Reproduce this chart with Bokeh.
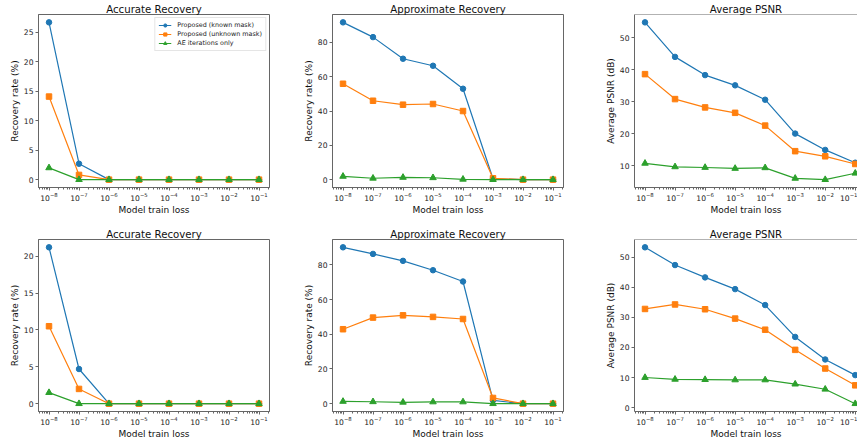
from bokeh.plotting import figure
from bokeh.layouts import gridplot
from bokeh.models import Range1d, FixedTicker, LogTickFormatter, Span
from bokeh.embed import file_html
from bokeh.resources import INLINE

# ---------------- data ----------------
loss = [1e-8, 1e-7, 1e-6, 1e-5, 1e-4, 1e-3, 1e-2, 1e-1]
series_names = ["Proposed (known mask)", "Proposed (unknown mask)", "AE iterations only"]

# top row
acc1_known = [26.7, 2.7, 0, 0, 0, 0, 0, 0]
acc1_unknown = [14.1, 0.8, 0, 0, 0, 0, 0, 0]
acc1_ae = [2.0, 0, 0, 0, 0, 0, 0, 0]
app1_known = [91.7, 83.1, 70.5, 66.4, 53.0, 0.5, 0, 0]
app1_unknown = [55.9, 46.0, 43.7, 44.1, 40.0, 0.8, 0, 0]
app1_ae = [1.9, 0.8, 1.3, 1.1, 0.2, 0, 0, 0]
psnr1_known = [54.8, 44.0, 38.3, 35.1, 30.6, 20.0, 14.9, 10.9]
psnr1_unknown = [38.6, 30.8, 28.2, 26.5, 22.5, 14.5, 12.9, 10.5]
psnr1_ae = [10.7, 9.6, 9.4, 9.1, 9.3, 6.0, 5.6, 7.6]

# bottom row
acc2_known = [21.2, 4.7, 0, 0, 0, 0, 0, 0]
acc2_unknown = [10.5, 2.0, 0, 0, 0, 0, 0, 0]
acc2_ae = [1.5, 0, 0, 0, 0, 0, 0, 0]
app2_known = [90.1, 86.3, 82.3, 76.9, 70.4, 1.9, 0, 0]
app2_unknown = [42.9, 49.6, 50.9, 50.0, 48.8, 3.3, 0, 0]
app2_ae = [1.3, 1.1, 0.8, 1.0, 1.0, 0, 0, 0]
psnr2_known = [53.3, 47.4, 43.3, 39.4, 34.1, 23.5, 16.0, 10.8]
psnr2_unknown = [32.8, 34.3, 32.7, 29.6, 25.9, 19.2, 13.0, 7.4]
psnr2_ae = [10.0, 9.4, 9.3, 9.2, 9.2, 7.8, 6.1, 1.3]

acc1_ticks = [0, 5, 10, 15, 20, 25]
acc2_ticks = [0, 5, 10, 15, 20]
app_ticks = [0, 20, 40, 60, 80]
psnr1_ticks = [10, 20, 30, 40, 50]
psnr2_ticks = [0, 10, 20, 30, 40, 50]

titles = ["Accurate Recovery", "Approximate Recovery", "Average PSNR"]
ylabels = ["Recovery rate (%)", "Recovery rate (%)", "Average PSNR (dB)"]
xlabel = "Model train loss"

# ---------------- style ----------------
COLORS = ["#1f77b4", "#ff7f0e", "#2ca02c"]
MARKERS = ["circle", "square", "triangle"]
MSIZES = [5.5, 5.5, 6.5]
FONT = "DejaVu Sans"
SPINE = "#666666"

minor = [k * 10.0 ** e for e in range(-9, 0) for k in range(2, 10)]


def make(rowi, col, title, ylabel, series, yticks, legend=False):
    widths = [300, 298, 259]
    lefts = [38, 32, 36]
    rights = [31, 35, 0]
    x_end_exp = [-0.65, -0.65, -0.925]
    heights = [220, 221]
    tops = [14, 19]
    bottoms = [33, 28]
    ys = [v for s in series for v in s]
    lo, hi = min(ys), max(ys)
    pad = 0.05 * (hi - lo)
    p = figure(width=widths[col], height=heights[rowi], x_axis_type="log",
               x_range=Range1d(10 ** -8.35, 10 ** x_end_exp[col]),
               y_range=Range1d(lo - pad, hi + pad),
               output_backend="svg", toolbar_location=None,
               min_border_left=lefts[col], min_border_right=rights[col],
               min_border_top=tops[rowi], min_border_bottom=bottoms[rowi],
               background_fill_color="white", border_fill_color="white")
    p.title.text = title
    p.title.align = "center"
    p.title.text_font = FONT
    p.title.text_font_size = "10.2px"
    p.title.text_font_style = "normal"
    p.title.text_color = "#111111"
    p.title.standoff = 0
    if col == 2:
        p.title.offset = 4
    p.xgrid.visible = False
    p.ygrid.visible = False
    if col == 2:
        p.outline_line_color = None
        p.add_layout(Span(location=hi + pad, dimension="width",
                          line_color=SPINE, line_width=1))
    else:
        p.outline_line_color = SPINE
        p.outline_line_width = 1
        p.outline_line_alpha = 1

    p.xaxis.ticker = FixedTicker(ticks=loss, minor_ticks=minor)
    p.xaxis.formatter = LogTickFormatter()
    p.yaxis.ticker = FixedTicker(ticks=yticks)
    p.xaxis.axis_label = xlabel
    p.yaxis.axis_label = ylabel
    for ax in (p.xaxis[0], p.yaxis[0]):
        ax.axis_line_color = SPINE
        ax.major_tick_line_color = SPINE
        ax.minor_tick_line_color = SPINE
        ax.major_tick_out = 3
        ax.major_tick_in = 0
        ax.minor_tick_out = 2
        ax.minor_tick_in = 0
        ax.major_label_text_font = FONT
        ax.major_label_text_font_size = "7.6px"
        ax.major_label_text_color = "#222222"
        ax.major_label_standoff = 2
        ax.axis_label_text_font = FONT
        ax.axis_label_text_font_size = "9px"
        ax.axis_label_text_font_style = "normal"
        ax.axis_label_text_color = "#111111"
        ax.axis_label_standoff = 1
    p.xaxis.major_label_standoff = 1
    p.yaxis.minor_tick_line_color = None

    for i, s in enumerate(series):
        kw = dict(legend_label=series_names[i]) if legend else {}
        p.line(loss, s, line_color=COLORS[i], line_width=1.2, **kw)
        p.scatter(loss, s, marker=MARKERS[i], size=MSIZES[i],
                  fill_color=COLORS[i], line_color=COLORS[i], **kw)
    if legend:
        lg = p.legend[0]
        lg.location = "top_right"
        lg.label_text_font = FONT
        lg.label_text_font_size = "6.4px"
        lg.label_text_color = "#222222"
        lg.label_height = 8
        lg.glyph_height = 8
        lg.glyph_width = 13
        lg.label_standoff = 6
        lg.spacing = 1
        lg.padding = 3
        lg.margin = 3
        lg.border_line_color = "#cccccc"
        lg.border_line_width = 1
        lg.background_fill_alpha = 0.8
    return p


p1 = make(0, 0, titles[0], ylabels[0], [acc1_known, acc1_unknown, acc1_ae], acc1_ticks, legend=True)
p2 = make(0, 1, titles[1], ylabels[1], [app1_known, app1_unknown, app1_ae], app_ticks)
p3 = make(0, 2, titles[2], ylabels[2], [psnr1_known, psnr1_unknown, psnr1_ae], psnr1_ticks)
p4 = make(1, 0, titles[0], ylabels[0], [acc2_known, acc2_unknown, acc2_ae], acc2_ticks)
p5 = make(1, 1, titles[1], ylabels[1], [app2_known, app2_unknown, app2_ae], app_ticks)
p6 = make(1, 2, titles[2], ylabels[2], [psnr2_known, psnr2_unknown, psnr2_ae], psnr2_ticks)

grid = gridplot([[p1, p2, p3], [p4, p5, p6]], toolbar_location=None)

open("out.html", "w").write(file_html(grid, INLINE))
